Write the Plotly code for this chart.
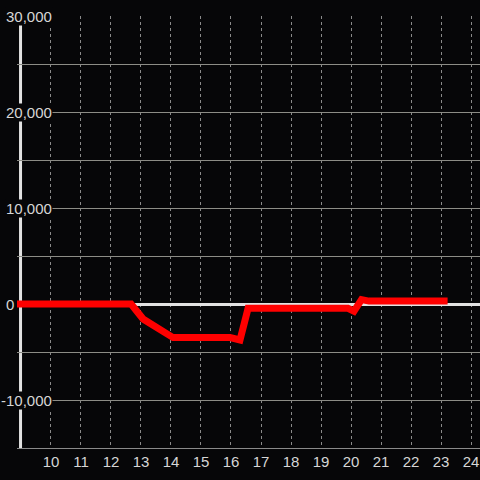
import plotly.graph_objects as go

# data
hours = [8.867, 12.67, 13.07, 14.07, 15.97, 16.3, 16.57, 19.9, 20.1, 20.35, 20.6, 23.22]
values = [0, 0, -1560, -3500, -3500, -3750, -450, -450, -750, 450, 300, 300]

x_ticks = list(range(10, 25))
y_grid = [-15000, -10000, -5000, 0, 5000, 10000, 15000, 20000, 25000, 30000]
y_labels = [30000, 20000, 10000, 0, -10000]

BG = "#060608"
TXT = "#d6d6d6"
FONT = "Liberation Sans, Arial, sans-serif"

fig = go.Figure()
fig.add_trace(go.Scatter(x=hours, y=values, mode="lines",
                         line=dict(color="#ff0000", width=7),
                         hoverinfo="skip", showlegend=False))

fig.update_layout(
    width=480, height=480,
    margin=dict(l=17, r=0, t=16, b=32, autoexpand=False),
    paper_bgcolor=BG, plot_bgcolor=BG,
    showlegend=False,
    xaxis=dict(range=[8.867, 24.3], tickmode="array", tickvals=x_ticks,
               ticktext=[str(v) for v in x_ticks], automargin=False,
               showgrid=True, gridcolor="#8a8a8a", gridwidth=1, griddash="3px,3px",
               zeroline=False, showline=True, linecolor="#8a8a8a", linewidth=1,
               ticks="", tickfont=dict(family=FONT, size=15, color=TXT)),
    yaxis=dict(range=[-15000, 30000], tickmode="array", tickvals=y_grid,
               showticklabels=False, showgrid=True, gridcolor="#8c8c86", gridwidth=1,
               zeroline=True, zerolinecolor="#e2e2e2", zerolinewidth=3,
               showline=False, ticks="", automargin=False),
)

# vertical y axis line
fig.add_shape(type="line", xref="x", yref="paper", x0=8.985, x1=8.985, y0=0, y1=1,
              line=dict(color="#e2e2e2", width=3), layer="below")

for v in y_labels:
    txt = f"{v:,}"
    if v == 0:
        fig.add_annotation(x=0, xref="paper", y=v, yref="y", text=txt, showarrow=False,
                           xanchor="right", xshift=-1, font=dict(family=FONT, size=15, color=TXT))
    else:
        fig.add_annotation(x=0, xref="paper", y=v, yref="y", text=txt, showarrow=False,
                           xanchor="right", xshift=36, bgcolor=BG, borderpad=0,
                           font=dict(family=FONT, size=15, color=TXT))

fig.write_html("out.html", config={"displayModeBar": False},
               post_script="document.body.style.margin='0';document.body.style.overflow='hidden';")
